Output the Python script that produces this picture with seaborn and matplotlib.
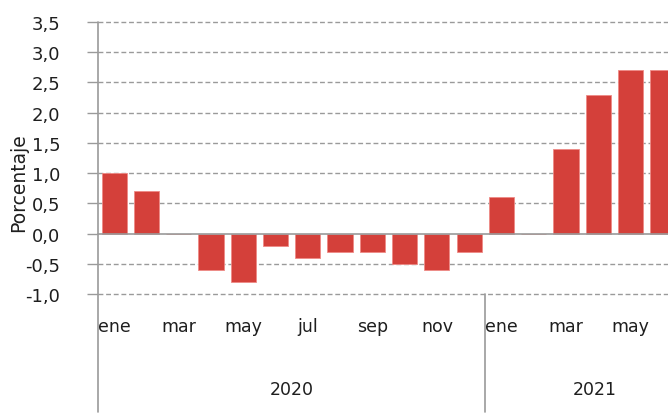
import matplotlib
matplotlib.use("Agg")
import matplotlib.pyplot as plt
import seaborn as sns
import pandas as pd

months = ["ene", "feb", "mar", "abr", "may", "jun", "jul", "ago", "sep", "oct", "nov", "dic",
          "ene", "feb", "mar", "abr", "may", "jun"]
years = ["2020"] * 12 + ["2021"] * 6
values = [1.0, 0.7, 0.0, -0.6, -0.8, -0.2, -0.4, -0.3, -0.3, -0.5, -0.6, -0.3,
          0.6, 0.0, 1.4, 2.3, 2.7, 2.7]
yticks = [-1.0, -0.5, 0.0, 0.5, 1.0, 1.5, 2.0, 2.5, 3.0, 3.5]
ylabel = "Porcentaje"

df = pd.DataFrame({"pos": [f"{y}-{i}" for i, y in enumerate(years)],
                   "mes": months, "anio": years, "valor": values})

sns.set_theme(style="white")
plt.rcParams["font.family"] = ["DejaVu Sans"]

W, H = 668, 414
fig = plt.figure(figsize=(W / 100, H / 100), dpi=100)
left, right, top, bottom = 98, 668, 23, 295
ax = fig.add_axes([left / W, 1 - bottom / H, (right - left) / W, (bottom - top) / H])

sns.barplot(data=df, x="pos", y="valor", color="#D4403A", width=0.78,
            edgecolor="#EE8A86", linewidth=0.6, saturation=1, ax=ax, zorder=3)

grid_c = "#9A9A9A"
txt_c = "#1E1E1E"
fs = 12.5
ax.set_ylim(-1.0, 3.5)
ax.set_xlim(-0.5, 17.16)
ax.set_yticks(yticks)
ax.set_yticklabels([f"{v:.1f}".replace(".", ",") for v in yticks], fontsize=fs + 0.5, color=txt_c)
for v in yticks:
    if v == 0:
        ax.axhline(v, color=grid_c, lw=1.2, zorder=4, clip_on=False)
    else:
        ax.axhline(v, color=grid_c, lw=1.0, ls=(0, (3.5, 2)), zorder=1, clip_on=False)

for s in ["top", "right", "bottom", "left"]:
    ax.spines[s].set_visible(False)
ax.tick_params(axis="y", length=8, width=1, color=grid_c, direction="out", pad=19, left=True)
ax.tick_params(axis="x", length=0)
ax.set_xticks([])
ax.set_xlabel("")
ax.set_ylabel("")

# left spine extended down through the category area
ext = -(413 - bottom) / (bottom - top)
trans = ax.get_xaxis_transform()
ax.plot([-0.5, -0.5], [ext, 1], transform=trans, color=grid_c, lw=1.2, clip_on=False, zorder=5)
ax.plot([11.5, 11.5], [ext, 0], transform=trans, color=grid_c, lw=1.2, clip_on=False, zorder=5)

y_month = -(327 - bottom) / (bottom - top)
for i, m in enumerate(months):
    if i % 2 == 0:
        ax.text(i, y_month, m, transform=trans, ha="center", va="center", fontsize=fs, color=txt_c)
y_year = -(390 - bottom) / (bottom - top)
ax.text(5.5, y_year, "2020", transform=trans, ha="center", va="center", fontsize=fs, color=txt_c)
ax.text(14.9, y_year, "2021", transform=trans, ha="center", va="center", fontsize=fs, color=txt_c)

fig.text(19 / W, 1 - 183 / H, ylabel, rotation=90, ha="center", va="center", fontsize=13.5, color=txt_c)

fig.savefig("out.png", dpi=100)
